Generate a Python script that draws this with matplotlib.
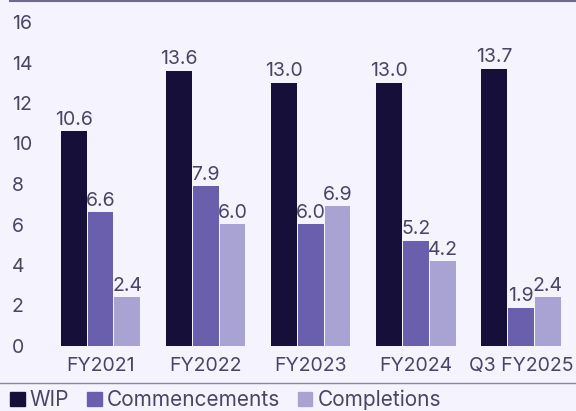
import matplotlib
matplotlib.use("Agg")
import matplotlib.pyplot as plt
import numpy as np
from matplotlib.patches import Patch
from matplotlib.lines import Line2D

categories = ["FY2021", "FY2022", "FY2023", "FY2024", "Q3 FY2025"]
wip = [10.6, 13.6, 13.0, 13.0, 13.7]
commencements = [6.6, 7.9, 6.0, 5.2, 1.9]
completions = [2.4, 6.0, 6.9, 4.2, 2.4]
yticks = [0, 2, 4, 6, 8, 10, 12, 14, 16]

bg = "#f5f3fd"
txt = "#4a4566"
colors = ["#150f3a", "#6a5fad", "#a9a3d4"]

plt.rcParams['font.family'] = ['Inter', 'DejaVu Sans']

fig = plt.figure(figsize=(5.76, 4.11), dpi=100, facecolor=bg)
ax = fig.add_axes([48/576, 1-346/411, (573.5-48)/576, (346-22)/411])
ax.set_facecolor(bg)

x = np.arange(len(categories))
w = 0.245
step = 0.255
series = [wip, commencements, completions]
names = ["WIP", "Commencements", "Completions"]
for i, (vals, c) in enumerate(zip(series, colors)):
    pos = x + (i - 1) * step
    ax.bar(pos, vals, width=w, color=c)
    for p, v in zip(pos, vals):
        ax.text(p, v + 0.12, f"{v:.1f}", ha="center", va="bottom",
                fontsize=14, color=txt)

ax.set_xlim(-0.5, 4.5)
ax.set_ylim(0, 16)
ax.set_yticks(yticks)
ax.set_xticks(x)
ax.set_xticklabels(categories)
ax.tick_params(axis="both", length=0, labelsize=14, colors=txt)
ax.tick_params(axis="x", pad=8)
ax.tick_params(axis="y", pad=26)
for lab in ax.get_yticklabels():
    lab.set_horizontalalignment("left")
for s in ax.spines.values():
    s.set_visible(False)

# top and bottom rules
fig.add_artist(Line2D([10/576, 1], [1-1/411, 1-1/411], color="#6e6a8a", lw=1.5))
fig.add_artist(Line2D([0, 1], [1-383/411, 1-383/411], color="#8a86a2", lw=1.0))

handles = [Patch(color=c) for c in colors]
leg = fig.legend(handles, names, loc="center left", bbox_to_anchor=(10/576, 1-400/411),
                 ncol=3, frameon=False, fontsize=15, handlelength=0.7, handleheight=0.7,
                 handletextpad=0.25, columnspacing=0.85, borderaxespad=0, borderpad=0)
for t in leg.get_texts():
    t.set_color(txt)

fig.savefig("out.png", dpi=100, facecolor=bg)
